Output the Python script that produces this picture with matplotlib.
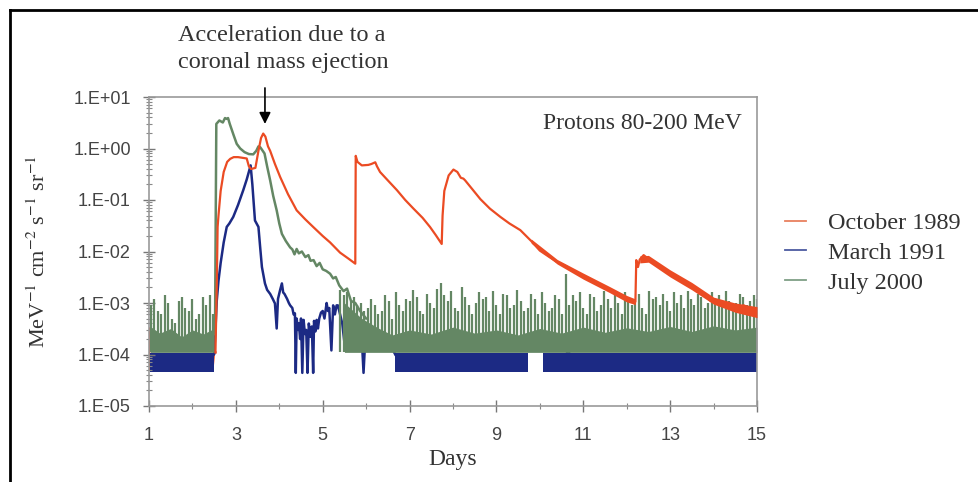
import numpy as np
import matplotlib
matplotlib.use("Agg")
import matplotlib.pyplot as plt
from matplotlib.lines import Line2D
from matplotlib.ticker import FixedLocator, FixedFormatter, LogLocator, NullFormatter

# ---- October 1989 (red): trace
oct_days = [1.00, 1.01, 1.50, 2.00, 2.46, 2.50, 2.53, 2.56, 2.58, 2.60, 2.65, 2.72, 2.80, 2.87,
            2.95, 3.05, 3.15, 3.25, 3.30, 3.35, 3.45, 3.52, 3.58, 3.63, 3.68, 3.74, 3.79,
            3.90, 4.02, 4.20, 4.40, 4.60, 4.78, 5.00, 5.17, 5.40, 5.60, 5.75, 5.76, 5.80,
            5.90, 6.05, 6.12, 6.21, 6.25, 6.32, 6.50, 6.71, 6.90, 7.09, 7.30, 7.47, 7.60,
            7.74, 7.76, 7.80, 7.90, 8.01, 8.10, 8.18, 8.24, 8.28, 8.45, 8.63, 8.85, 9.09,
            9.30, 9.55, 9.80, 10.00, 10.20, 10.39, 10.60, 10.85, 11.05, 11.23, 11.50, 11.80,
            12.00, 12.20, 12.22, 12.26, 12.30, 12.39, 12.50, 12.77, 13.00, 13.30, 13.54,
            13.75, 13.93, 14.20, 14.50, 14.70, 14.92, 15.00]
oct_flux = [3.2e-4, 5e-5, 5e-5, 5e-5, 5e-5, 1.1e-4, 1.1e-4, 2e-3, 0.03, 0.05, 0.15, 0.35, 0.55, 0.63,
            0.68, 0.68, 0.66, 0.64, 0.45, 0.40, 0.42, 0.9, 1.6, 1.95, 1.7, 1.1, 0.9,
            0.5, 0.28, 0.13, 0.063, 0.042, 0.030, 0.020, 0.015, 0.0095, 0.0072, 0.0058, 0.72, 0.55,
            0.47, 0.48, 0.50, 0.54, 0.45, 0.35, 0.24, 0.155, 0.10, 0.068, 0.045, 0.030, 0.021,
            0.014, 0.05, 0.15, 0.30, 0.39, 0.35, 0.27, 0.26, 0.24, 0.16, 0.104, 0.068, 0.047,
            0.035, 0.026, 0.016, 0.0104, 0.008, 0.0063, 0.0052, 0.0038, 0.0032, 0.0027, 0.002, 0.0015,
            0.0012, 0.00105, 0.0068, 0.005, 0.007, 0.0085, 0.0072, 0.005, 0.0038, 0.0027, 0.002,
            0.0015, 0.0011, 0.0009, 0.0008, 0.0009, 0.0007, 0.00065]
# noisy spread of the red trace late in the event (two decays)
oct_noise1_days = [9.8, 10.4, 11.0, 11.6, 12.0, 12.2]
oct_noise1_lo = [0.0145, 0.0057, 0.0029, 0.0016, 0.00105, 0.00093]
oct_noise1_hi = [0.0175, 0.0070, 0.0038, 0.0021, 0.0014, 0.0012]
oct_noise2_days = [12.3, 12.5, 13.0, 13.5, 14.0, 14.5, 15.0]
oct_noise2_lo = [0.0060, 0.0062, 0.0032, 0.0018, 0.00095, 0.00066, 0.00052]
oct_noise2_hi = [0.0082, 0.0084, 0.0044, 0.0025, 0.0013, 0.0010, 0.00085]

# ---- March 1991 (blue)
mar_days = [2.48, 2.50, 2.53, 2.56, 2.60, 2.65, 2.72, 2.79, 2.85, 2.94, 3.05, 3.17, 3.25, 3.29,
            3.34, 3.38, 3.44, 3.52, 3.56, 3.60, 3.67, 3.72, 3.79, 3.85, 3.90, 3.94, 3.97,
            4.02, 4.06, 4.09, 4.12, 4.18, 4.22, 4.25, 4.30, 4.33, 4.36, 4.38, 4.40, 4.43, 4.45,
            4.48, 4.50, 4.53, 4.56, 4.59, 4.62, 4.65, 4.68, 4.72, 4.75, 4.78, 4.80, 4.83, 4.86,
            4.89, 4.92, 4.96, 5.00, 5.04, 5.09, 5.12, 5.15, 5.20, 5.24, 5.28, 5.32, 5.35, 5.40,
            5.45, 5.52, 5.56, 5.70, 5.80, 5.90, 5.94, 5.98, 6.10, 6.30, 6.50, 6.60, 6.67]
mar_flux = [1e-4, 1e-4, 3e-4, 1.1e-3, 2.7e-3, 6e-3, 0.015, 0.030, 0.035, 0.047, 0.08, 0.155, 0.25, 0.33,
            0.47, 0.2, 0.04, 0.03, 0.012, 0.005, 0.0024, 0.0018, 0.0015, 0.0012, 0.00098, 3.2e-4, 0.0012,
            0.0018, 0.0024, 0.0016, 0.0015, 0.0012, 0.0010, 0.0009, 0.0008, 0.0006, 0.00063, 4.4e-5, 5e-4,
            3e-4, 4e-4, 2e-4, 5e-4, 4.4e-5, 4.7e-4, 2.5e-4, 3e-4, 4.4e-5, 4e-4, 2.2e-4, 3.5e-4, 4.4e-5,
            4.5e-4, 2.8e-4, 4.7e-4, 3.2e-4, 5e-4, 6.5e-4, 7e-4, 5e-4, 0.001, 7e-4, 8e-4, 1.2e-4,
            9e-4, 6e-4, 9e-4, 9e-4, 6e-4, 4e-4, 1.2e-4, 4e-4, 3e-4, 2.5e-4, 2e-4, 4.4e-5, 2e-4, 2e-4,
            1.6e-4, 1.5e-4, 1.3e-4, 1e-4]
mar_bump_days = [10.62, 10.65, 10.68]
mar_bump_flux = [1e-4, 2.2e-4, 1e-4]
# quiet-time counts toggle between two levels
mar_low, mar_high = 4.5e-5, 1.05e-4
mar_quiet = [(1.03, 2.50), (6.67, 9.73), (10.08, 15.0)]

# ---- July 2000 (green)
jul_days = [2.50, 2.52, 2.55, 2.62, 2.70, 2.75, 2.79, 2.82, 2.86, 2.95, 3.02, 3.10, 3.20, 3.30,
            3.40, 3.47, 3.52, 3.56, 3.60, 3.66, 3.72, 3.79, 3.86, 3.94, 4.00, 4.06, 4.15,
            4.25, 4.30, 4.35, 4.40, 4.45, 4.52, 4.60, 4.67, 4.72, 4.79, 4.86, 4.93, 5.00,
            5.08, 5.17, 5.24, 5.30, 5.38, 5.48, 5.56, 5.65, 5.75, 5.86, 6.00]
jul_flux = [2.5e-4, 3e-4, 3.0, 3.5, 3.2, 3.9, 3.76, 3.9, 3.0, 1.8, 1.23, 1.0, 0.85, 0.78,
            0.77, 0.9, 1.1, 1.06, 0.95, 0.8, 0.45, 0.24, 0.12, 0.063, 0.035, 0.022, 0.016,
            0.012, 0.011, 0.0088, 0.0112, 0.0092, 0.0100, 0.0078, 0.0085, 0.0066, 0.0068, 0.0052, 0.0060, 0.0045,
            0.0042, 0.0037, 0.0030, 0.0032, 0.0022, 0.0017, 0.0019, 0.0011, 0.0010, 0.0007, 0.0005]
jul_floor = 1.1e-4
# spikes of the noisy background (units of 1e-4), sampled every 0.08 day
jul_step = 0.08
jul_spikes1_start = 1.04
jul_spikes1 = [9, 12, 7, 6, 14, 10, 5, 4, 11, 13, 8, 7, 12, 5, 6, 13, 9, 14, 6]
jul_spikes2_start = 5.40
jul_spikes2 = [18, 14, 16, 11, 13, 9, 10, 7, 8, 12, 9, 6, 7, 14, 11, 5, 16, 9, 7, 12,
               11, 18, 13, 7, 6, 15, 10, 8, 19, 24, 14, 11, 17, 8, 7, 20, 13, 9, 6, 10,
               16, 12, 13, 7, 17, 9, 6, 15, 14, 8, 9, 18, 11, 7, 8, 15, 12, 6, 16, 10,
               7, 8, 14, 12, 6, 37, 9, 14, 11, 16, 8, 6, 15, 13, 7, 9, 17, 12, 8, 14,
               10, 6, 16, 13, 9, 10, 15, 8, 6, 17, 12, 13, 9, 15, 11, 7, 16, 10, 14, 8,
               17, 12, 9, 15, 13, 8, 10, 16, 12, 14, 9, 17, 11, 8, 10, 15, 13, 9, 11, 14, 12]
# top of the dense part of the background
jul_band1_days = [1.03, 1.25, 1.5, 1.75, 2.0, 2.25, 2.5]
jul_band1_top = [3.5e-4, 2.6e-4, 3.2e-4, 2.2e-4, 3.0e-4, 2.5e-4, 3.2e-4]
jul_band2_days = [5.5, 5.9, 6.3, 6.6, 7, 7.5, 8, 8.5, 9, 9.5, 10, 10.5, 11, 11.5, 12, 12.5,
                  13, 13.5, 14, 14.5, 15]
jul_band2_top = [1.0e-3, 5e-4, 3.2e-4, 2.4e-4, 3.0e-4, 2.5e-4, 3.4e-4, 2.6e-4, 3.0e-4, 2.4e-4,
                 3.2e-4, 2.6e-4, 3.4e-4, 2.7e-4, 3.3e-4, 2.8e-4, 3.5e-4, 2.8e-4, 3.6e-4, 3.0e-4, 3.4e-4]

series_names = ["October 1989", "March 1991", "July 2000"]
ytick_vals = [1e-5, 1e-4, 1e-3, 1e-2, 1e-1, 1e0, 1e1]
ytick_labels = ["1.E-05", "1.E-04", "1.E-03", "1.E-02", "1.E-01", "1.E+00", "1.E+01"]
xtick_major = [1, 3, 5, 7, 9, 11, 13, 15]
xtick_minor = [2, 4, 6, 8, 10, 12, 14]

RED = "#EB4B23"
BLUE = "#1C2A84"
GREEN = "#648764"
SERIF = "Liberation Serif"
SANS = "Liberation Sans"


def main():
    plt.rcParams["mathtext.fontset"] = "stix"
    fig = plt.figure(figsize=(9.79, 4.82), dpi=100)
    ax = fig.add_axes([149 / 979, 76 / 482, 608 / 979, 309 / 482])
    ax.set_yscale("log")

    # red, early part sits under the blue quiet band
    k = oct_days.index(2.53)
    ax.plot(oct_days[:k + 1], oct_flux[:k + 1], color=RED, lw=1.6, zorder=1)
    ax.plot(oct_days[k:], oct_flux[k:], color=RED, lw=1.6, zorder=4)
    ax.fill_between(oct_noise1_days, oct_noise1_lo, oct_noise1_hi, color=RED, lw=0, zorder=4)
    ax.fill_between(oct_noise2_days, oct_noise2_lo, oct_noise2_hi, color=RED, lw=0, zorder=4)

    # blue
    for a, b in mar_quiet:
        ax.fill_between([a, b], [mar_low, mar_low], [mar_high, mar_high], color=BLUE, lw=0, zorder=1.5)
    ax.plot(mar_days, mar_flux, color=BLUE, lw=1.8, zorder=1.5)
    ax.plot(mar_bump_days, mar_bump_flux, color=BLUE, lw=1.6, zorder=1.5)

    # green
    ax.fill_between(jul_band1_days, jul_floor, jul_band1_top, color=GREEN, lw=0, zorder=2)
    ax.fill_between(jul_band2_days, jul_floor, jul_band2_top, color=GREEN, lw=0, zorder=2)
    for start, tops in [(jul_spikes1_start, jul_spikes1), (jul_spikes2_start, jul_spikes2)]:
        d = start + jul_step * np.arange(len(tops))
        ax.vlines(d, jul_floor, np.array(tops) * 1e-4, color=GREEN, lw=1.6, zorder=2)
    ax.plot(jul_days, jul_flux, color=GREEN, lw=1.8, zorder=2)

    ax.set_xlim(1, 15)
    ax.set_ylim(1e-5, 1e1)

    ax.xaxis.set_major_locator(FixedLocator(xtick_major))
    ax.xaxis.set_minor_locator(FixedLocator(xtick_minor))
    ax.yaxis.set_major_locator(FixedLocator(ytick_vals))
    ax.yaxis.set_major_formatter(FixedFormatter(ytick_labels))
    ax.yaxis.set_minor_locator(LogLocator(base=10, subs=np.arange(2, 10)))
    ax.yaxis.set_minor_formatter(NullFormatter())

    ax.tick_params(axis="both", which="major", direction="inout", length=8, width=1,
                   color="#777777", labelcolor="#444444", labelsize=13)
    ax.tick_params(axis="both", which="minor", direction="inout", length=5, width=0.8,
                   color="#888888")
    ax.tick_params(axis="x", which="major", pad=11)
    ax.tick_params(axis="y", which="major", pad=9)
    for lab in ax.get_xticklabels() + ax.get_yticklabels():
        lab.set_fontfamily(SANS)
    for s in ax.spines.values():
        s.set_color("#999999")
        s.set_linewidth(1.2)

    ax.set_xlabel("Days", fontfamily=SERIF, fontsize=17, color="#333333")
    ax.xaxis.set_label_coords(0.5, -0.14)
    ax.set_ylabel("MeV$^{-1}$ cm$^{-2}$ s$^{-1}$ sr$^{-1}$", fontfamily=SERIF, fontsize=16,
                  color="#333333")
    ax.yaxis.set_label_coords(-0.163, 0.5)

    ax.text(0.975, 0.915, "Protons 80-200 MeV", transform=ax.transAxes, ha="right", va="center",
            fontfamily=SERIF, fontsize=17, color="#333333")

    ax.annotate("", xy=(3.67, 3.0), xytext=(3.67, 15.0), annotation_clip=False,
                arrowprops=dict(arrowstyle="-|>", color="black", lw=1.2, mutation_scale=17,
                                shrinkA=0, shrinkB=0))
    fig.text(178 / 979, 1 - 25 / 482, "Acceleration due to a\ncoronal mass ejection",
             ha="left", va="top", fontfamily=SERIF, fontsize=17.5, color="#333333", linespacing=1.4)

    handles = [Line2D([], [], color=c, lw=1.3) for c in ["#E8805F", "#4C5AA0", "#7F9F86"]]
    fig.legend(handles, series_names, loc="upper left", bbox_to_anchor=(785 / 979, 1 - 212 / 482),
               frameon=False, handlelength=0.85, handletextpad=0.9, labelspacing=0.32,
               borderaxespad=0, borderpad=0, prop={"family": SERIF, "size": 17.5},
               labelcolor="#333333")

    # frame of the source picture
    fig.add_artist(Line2D([10 / 979, 1], [1 - 10 / 482, 1 - 10 / 482], transform=fig.transFigure,
                          color="black", lw=2))
    fig.add_artist(Line2D([10 / 979, 10 / 979], [0, 1 - 10 / 482], transform=fig.transFigure,
                          color="black", lw=2))

    fig.savefig("out.png", dpi=100)


if __name__ == "__main__":
    main()
